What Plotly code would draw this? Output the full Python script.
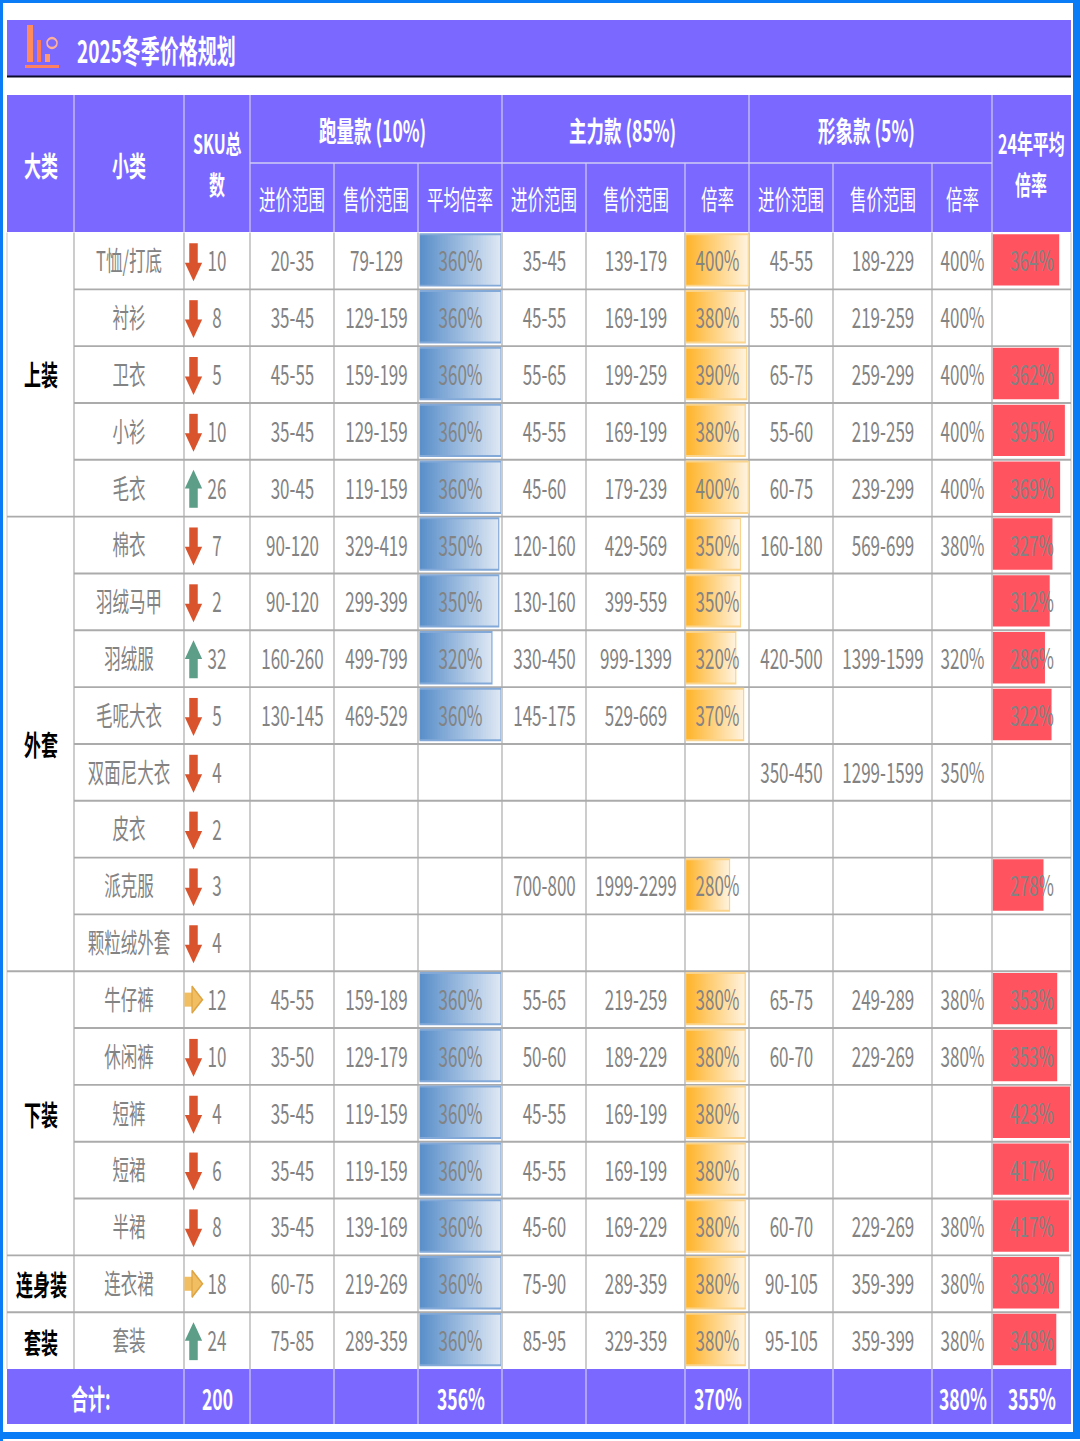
import plotly.graph_objects as go

W, H = 1080, 1441
DRAW_H = 873          # the reference is a tall, stretched picture: draw shorter, stretch to H
STRETCH = H / DRAW_H

# ---------- data ----------
groups = ["上装", "外套", "下装", "连身装", "套装"]
group_sizes = [5, 8, 5, 1, 1]
subcats = ["T恤/打底", "衬衫", "卫衣", "小衫", "毛衣", "棉衣", "羽绒马甲", "羽绒服", "毛呢大衣", "双面尼大衣",
           "皮衣", "派克服", "颗粒绒外套", "牛仔裤", "休闲裤", "短裤", "短裙", "半裙", "连衣裙", "套装"]
sku = [10, 8, 5, 10, 26, 7, 2, 32, 5, 4, 2, 3, 4, 12, 10, 4, 6, 8, 18, 24]
trend = ["d", "d", "d", "d", "u", "d", "d", "u", "d", "d", "d", "d", "d", "r", "d", "d", "d", "d", "r", "u"]

run_cost = ["20-35", "35-45", "45-55", "35-45", "30-45", "90-120", "90-120", "160-260", "130-145", "", "", "", "",
            "45-55", "35-50", "35-45", "35-45", "35-45", "60-75", "75-85"]
run_price = ["79-129", "129-159", "159-199", "129-159", "119-159", "329-419", "299-399", "499-799", "469-529", "", "", "", "",
             "159-189", "129-179", "119-159", "119-159", "139-169", "219-269", "289-359"]
run_rate = [360, 360, 360, 360, 360, 350, 350, 320, 360, None, None, None, None,
            360, 360, 360, 360, 360, 360, 360]
main_cost = ["35-45", "45-55", "55-65", "45-55", "45-60", "120-160", "130-160", "330-450", "145-175", "", "", "700-800", "",
             "55-65", "50-60", "45-55", "45-55", "45-60", "75-90", "85-95"]
main_price = ["139-179", "169-199", "199-259", "169-199", "179-239", "429-569", "399-559", "999-1399", "529-669", "", "", "1999-2299", "",
              "219-259", "189-229", "169-199", "169-199", "169-229", "289-359", "329-359"]
main_rate = [400, 380, 390, 380, 400, 350, 350, 320, 370, None, None, 280, None,
             380, 380, 380, 380, 380, 380, 380]
img_cost = ["45-55", "55-60", "65-75", "55-60", "60-75", "160-180", "", "420-500", "", "350-450", "", "", "",
            "65-75", "60-70", "", "", "60-70", "90-105", "95-105"]
img_price = ["189-229", "219-259", "259-299", "219-259", "239-299", "569-699", "", "1399-1599", "", "1299-1599", "", "", "",
             "249-289", "229-269", "", "", "229-269", "359-399", "359-399"]
img_rate = [400, 400, 400, 400, 400, 380, None, 320, None, 350, None, None, None,
            380, 380, None, None, 380, 380, 380]
prev_rate = [364, None, 362, 395, 369, 327, 312, 286, 322, None, None, 278, None,
             353, 353, 423, 417, 417, 363, 348]

title = "2025冬季价格规划"
total_label = "合计:"
total_sku = "200"
total_rates = ["356%", "370%", "380%", "355%"]

# ---------- layout constants ----------
col_x = [7, 74, 184, 250, 334, 418, 502, 586, 685, 749, 833, 932, 992, 1071]
row_top, row_bot, total_bot = 232.5, 1369, 1424
n = len(subcats)
row_h = (row_bot - row_top) / n
PURPLE = "#7B69FF"
GRID = "#ABABAB"
LIGHT = "#D0CCF5"
TXT = "#838383"
FONT = "Noto Sans CJK SC, sans-serif"
NUM = 17


def px(x):
    return x / W


def py(y):
    return 1 - y / H


def center(i):
    return (col_x[i] + col_x[i + 1]) / 2


def pct(vals):
    return [f"{v}%" if v is not None else "" for v in vals]


shapes = []


def rect(x0, y0, x1, y1, color):
    shapes.append(dict(type="rect", xref="paper", yref="paper", x0=px(x0), x1=px(x1), y0=py(y0), y1=py(y1),
                       fillcolor=color, line=dict(width=0), layer="below"))


def seg(x0, y0, x1, y1, color, lw):
    shapes.append(dict(type="line", xref="paper", yref="paper", x0=px(x0), x1=px(x1), y0=py(y0), y1=py(y1),
                       line=dict(color=color, width=lw), layer="below"))


def hseg(x0, x1, y, color, lw):
    seg(x0, y, x1, y, color, lw / STRETCH)


# page frame
FRAME = "#0A7CF5"
rect(0, 0, W, 3, FRAME)
rect(0, 0, 3, H, FRAME)
rect(1073, 0, W, 1436, FRAME)
rect(0, 1432, W, 1439, FRAME)

# title bar
rect(7, 20, 1071, 76, PURPLE)
hseg(7, 1071, 76.5, "#0B0B2A", 2.2)
# title icon
rect(27, 25, 33, 62, "#FF8A5C")
rect(37, 40, 41, 62, "#FF7A50")
rect(45, 54, 50, 62, "#FF9A70")
rect(25, 65, 59, 68, "#FF8060")
shapes.append(dict(type="circle", xref="paper", yref="paper", x0=px(47), x1=px(57), y0=py(38), y1=py(48),
                   fillcolor="rgba(0,0,0,0)", line=dict(color="#FFB09A", width=1.5), layer="below"))

# header block
rect(7, 95, 1071, 232, PURPLE)
for x in col_x[1:4] + [502, 749, 992]:
    seg(x, 95, x, 232, LIGHT, 1.2)
hseg(250, 992, 163, LIGHT, 1.6)
for x in [334, 418, 586, 685, 833, 932]:
    seg(x, 163, x, 232, LIGHT, 1.2)

# total row
rect(7, row_bot, 1071, total_bot, PURPLE)
for x in col_x[2:-1]:
    seg(x, row_bot, x, total_bot, LIGHT, 1.2)

# body grid
for x in col_x[1:-1]:
    seg(x, row_top, x, row_bot, GRID, 1.2)
seg(7, row_top, 7, row_bot, "#C8C8C8", 1)
seg(1071, row_top, 1071, row_bot, "#C8C8C8", 1)
boundaries = set()
acc = 0
for s in group_sizes:
    acc += s
    boundaries.add(acc)
for i in range(1, n):
    hseg(7 if i in boundaries else 74, 1071, row_top + i * row_h, GRID, 1.9)

fig = go.Figure()


def gradient_bars(values, xaxis, c0, c1, edge, steps=32):
    a = [int(c0[i:i + 2], 16) for i in (1, 3, 5)]
    b = [int(c1[i:i + 2], 16) for i in (1, 3, 5)]
    for k in range(steps):
        t = k / (steps - 1)
        col = "rgb({},{},{})".format(*[round(a[j] + (b[j] - a[j]) * t) for j in range(3)])
        fig.add_bar(y=subcats, orientation="h", xaxis=xaxis, yaxis="y", width=0.905, hoverinfo="skip",
                    base=[None if v is None else v * k / steps for v in values],
                    x=[None if v is None else v * (1 - k / steps) for v in values],
                    marker=dict(color=col, line=dict(width=0)), showlegend=False)
    fig.add_bar(y=subcats, x=values, orientation="h", xaxis=xaxis, yaxis="y", width=0.905, hoverinfo="skip",
                marker=dict(color="rgba(0,0,0,0)", line=dict(color=edge, width=1.2)), showlegend=False)


gradient_bars(run_rate, "x2", "#5A8FCA", "#DDE7F3", "#83A9D8")
gradient_bars(main_rate, "x3", "#FFB42A", "#FFF2DC", "#FAD48C")
fig.add_bar(y=subcats, x=prev_rate, orientation="h", xaxis="x4", yaxis="y", width=0.905, hoverinfo="skip",
            marker=dict(color="#FF5360", line=dict(width=0)), showlegend=False)


def text_col(xc, texts, size, color=TXT):
    fig.add_scatter(x=[xc] * n, y=subcats, text=texts, mode="text", xaxis="x5", yaxis="y2",
                    textposition="middle center", hoverinfo="skip", showlegend=False,
                    textfont=dict(family=FONT, size=size, color=color))


text_col(center(1), subcats, 16.5)
text_col(217, [str(v) for v in sku], NUM)
for i, col in [(3, run_cost), (4, run_price), (5, pct(run_rate)), (6, main_cost), (7, main_price),
               (8, pct(main_rate)), (9, img_cost), (10, img_price), (11, pct(img_rate)), (12, pct(prev_rate))]:
    text_col(center(i) + 0.5, col, NUM)


def arrow_marks(code, color):
    ys = [s for s, t in zip(subcats, trend) if t == code]
    stem_axis, head_axis = ("y3", "y4") if code == "d" else ("y5", "y6")
    head = "triangle-down" if code == "d" else "triangle-up"
    fig.add_scatter(x=[193.5] * len(ys), y=ys, mode="markers", xaxis="x5", yaxis=stem_axis, hoverinfo="skip",
                    showlegend=False, marker=dict(symbol="line-ns", size=10, line=dict(color=color, width=8.5)))
    fig.add_scatter(x=[193.5] * len(ys), y=ys, mode="markers", xaxis="x5", yaxis=head_axis, hoverinfo="skip",
                    showlegend=False, marker=dict(symbol=head, size=15, color=color, line=dict(width=0)))


arrow_marks("d", "#D9532C")
arrow_marks("u", "#5C9E88")
ys_r = [s for s, t in zip(subcats, trend) if t == "r"]
fig.add_scatter(x=[190] * len(ys_r), y=ys_r, mode="markers", xaxis="x5", yaxis="y7", hoverinfo="skip", showlegend=False,
                marker=dict(symbol="line-ew", size=8, line=dict(color="#F2BE62", width=8.5)))
fig.add_scatter(x=[195.5] * len(ys_r), y=ys_r, mode="markers", xaxis="x5", yaxis="y7", hoverinfo="skip", showlegend=False,
                marker=dict(symbol="triangle-right", size=14, color="#F2BE62", line=dict(color="#DDA444", width=1.2)))

annotations = []


def note(x, y, text, size, color="white", bold=False):
    annotations.append(dict(xref="paper", yref="paper", x=px(x), y=py(y), xanchor="center", yanchor="middle",
                            text=f"<b>{text}</b>" if bold else text, showarrow=False,
                            font=dict(family=FONT, size=size, color=color)))


annotations.append(dict(xref="paper", yref="paper", x=px(75), y=py(48), xanchor="left", yanchor="middle",
                        text=f"<b>{title}</b>", showarrow=False,
                        font=dict(family=FONT, size=19, color="white")))
note(41, 164, "大类", 17, bold=True)
note(129, 164, "小类", 17, bold=True)
note(217, 142, "SKU总", 16, bold=True)
note(217, 183, "数", 16, bold=True)
note(372, 129, "跑量款 (10%)", 17.5, bold=True)
note(622, 129, "主力款 (85%)", 17.5, bold=True)
note(866, 129, "形象款 (5%)", 17.5, bold=True)
note(1031, 142, "24年平均", 16, bold=True)
note(1031, 183, "倍率", 16, bold=True)
for i, t in [(3, "进价范围"), (4, "售价范围"), (5, "平均倍率"), (6, "进价范围"), (7, "售价范围"), (8, "倍率"),
             (9, "进价范围"), (10, "售价范围"), (11, "倍率")]:
    note(center(i), 198, t, 16.5)

# category labels, merged over their rows
acc = 0
for g, s in zip(groups, group_sizes):
    note(41, row_top + (acc + s / 2) * row_h, g, 17, color="#000000", bold=True)
    acc += s

# total row
note(91, 1397, total_label, 17, bold=True)
note(217, 1397, total_sku, 17.5, bold=True)
for i, t in zip([5, 8, 11, 12], total_rates):
    note(center(i) + 0.5, 1397, t, 17.5, bold=True)

layout = dict(width=W, height=DRAW_H, margin=dict(l=0, r=0, t=0, b=0), paper_bgcolor="white", plot_bgcolor="rgba(0,0,0,0)",
              barmode="overlay", autosize=False, showlegend=False, shapes=shapes, annotations=annotations,
              font=dict(family=FONT))


def x_axis(x0, x1, lo, hi):
    return dict(domain=[px(x0), px(x1)], range=[lo, hi], visible=False, fixedrange=True, anchor="y")


def y_axis(shift):
    return dict(domain=[py(row_bot + shift), py(row_top + shift)], type="category", categoryorder="array",
                categoryarray=subcats, range=[n - 0.5, -0.5], visible=False, fixedrange=True, anchor="x5")


layout["xaxis2"] = x_axis(419.5, 501, 0, 360)
layout["xaxis3"] = x_axis(685.7, 748.3, 0, 400)
layout["xaxis4"] = x_axis(992.7, 1070, 0, 423)
layout["xaxis5"] = x_axis(0, W, 0, W)
for name, shift in [("yaxis", -1), ("yaxis2", 3.5), ("yaxis3", -6), ("yaxis4", 8), ("yaxis5", 8), ("yaxis6", -6), ("yaxis7", 0)]:
    layout[name] = y_axis(shift)
fig.update_layout(**layout)

fig.write_html("out.html", config=dict(displayModeBar=False),
               post_script=("document.body.style.margin='0';"
                            "var g=document.querySelector('.plotly-graph-div');"
                            f"g.style.transformOrigin='top left';g.style.transform='scaleY({STRETCH})';"))
